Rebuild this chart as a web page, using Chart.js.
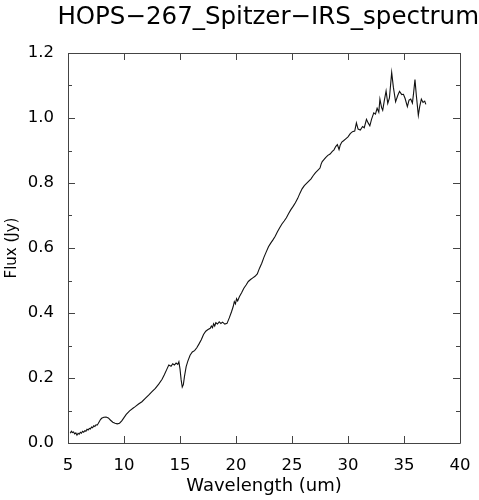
<!DOCTYPE html>
<html>
<head>
<meta charset="utf-8">
<title>HOPS-267 Spitzer IRS spectrum</title>
<script src="https://cdn.jsdelivr.net/npm/chart.js@4.4.1/dist/chart.umd.min.js"></script>
<style>
  html, body { margin: 0; padding: 0; background: #fff; }
  #wrap { width: 479px; height: 500px; }
</style>
</head>
<body>
<div id="wrap"><canvas id="spectrum"></canvas></div>
<script>
// Spectrum (wavelength in um, flux in Jy)
const wavelength = [
  5.2, 5.3, 5.4, 5.5, 5.6, 5.7, 5.8, 5.9, 6.0, 6.1, 6.2, 6.3, 6.4, 6.5, 6.6, 6.7, 6.8, 6.9, 7.0, 7.1,
  7.2, 7.3, 7.4, 7.5, 7.6, 7.7, 7.8, 7.9, 8.0, 8.2, 8.4, 8.6, 8.8, 9.0, 9.2, 9.4, 9.6, 9.8, 10.0, 10.2,
  10.5, 10.8, 11.0, 11.3, 11.6, 11.9, 12.2, 12.5, 12.8, 13.1, 13.4, 13.6, 13.8, 14.0, 14.2, 14.35, 14.5, 14.65, 14.8, 14.9,
  15.0, 15.1, 15.2, 15.3, 15.4, 15.55, 15.7, 15.9, 16.1, 16.3, 16.5, 16.7, 16.9, 17.1, 17.3, 17.5, 17.7, 17.8, 17.9, 18.0,
  18.1, 18.2, 18.35, 18.5, 18.65, 18.8, 19.0, 19.2, 19.4, 19.6, 19.75, 19.85, 19.95, 20.05, 20.15, 20.3, 20.5, 20.7, 20.9, 21.1,
  21.3, 21.5, 21.7, 21.9, 22.1, 22.3, 22.5, 22.7, 22.9, 23.1, 23.3, 23.5, 23.7, 23.9, 24.1, 24.3, 24.5, 24.7, 24.9, 25.1,
  25.3, 25.5, 25.7, 25.9, 26.1, 26.3, 26.5, 26.7, 26.9, 27.1, 27.3, 27.5, 27.6, 27.7, 27.85, 28.0, 28.2, 28.4, 28.6, 28.75,
  28.9, 29.05, 29.2, 29.3, 29.45, 29.6, 29.8, 30.0, 30.2, 30.4, 30.6, 30.75, 30.9, 31.1, 31.3, 31.45, 31.65, 31.8, 31.95, 32.1,
  32.3, 32.45, 32.6, 32.75, 32.85, 33.0, 33.1, 33.25, 33.4, 33.55, 33.7, 33.9, 34.05, 34.25, 34.45, 34.6, 34.8, 34.95, 35.1, 35.3,
  35.45, 35.6, 35.75, 35.85, 35.98, 36.1, 36.28, 36.4, 36.55, 36.7, 36.85, 36.95
];
const flux = [
  0.030, 0.036, 0.032, 0.034, 0.028, 0.031, 0.024, 0.030, 0.027, 0.033, 0.030, 0.036, 0.033, 0.038, 0.036, 0.042, 0.040, 0.045, 0.043, 0.049,
  0.047, 0.053, 0.051, 0.056, 0.055, 0.060, 0.066, 0.072, 0.076, 0.079, 0.080, 0.077, 0.070, 0.064, 0.061, 0.059, 0.061, 0.068, 0.078, 0.088,
  0.099, 0.107, 0.112, 0.120, 0.127, 0.137, 0.147, 0.158, 0.168, 0.181, 0.196, 0.210, 0.225, 0.240, 0.236, 0.244, 0.240, 0.246, 0.242, 0.250,
  0.228, 0.195, 0.172, 0.180, 0.205, 0.235, 0.252, 0.270, 0.280, 0.284, 0.293, 0.305, 0.318, 0.334, 0.344, 0.349, 0.353, 0.360, 0.355, 0.367,
  0.360, 0.370, 0.366, 0.373, 0.368, 0.372, 0.366, 0.368, 0.385, 0.404, 0.420, 0.435, 0.428, 0.444, 0.437, 0.450, 0.462, 0.476, 0.486, 0.497,
  0.503, 0.508, 0.513, 0.520, 0.538, 0.553, 0.572, 0.588, 0.604, 0.615, 0.625, 0.636, 0.650, 0.662, 0.674, 0.683, 0.693, 0.706, 0.718, 0.728,
  0.739, 0.752, 0.768, 0.782, 0.792, 0.799, 0.806, 0.813, 0.823, 0.832, 0.839, 0.846, 0.858, 0.866, 0.872, 0.878, 0.885, 0.889, 0.897, 0.902,
  0.912, 0.918, 0.903, 0.916, 0.926, 0.930, 0.936, 0.942, 0.952, 0.958, 0.960, 0.985, 0.966, 0.963, 0.974, 0.970, 0.996, 0.985, 0.976, 0.996,
  1.016, 1.012, 1.030, 1.018, 1.058, 1.032, 1.024, 1.055, 1.083, 1.045, 1.062, 1.140, 1.095, 1.050, 1.070, 1.082, 1.072, 1.073, 1.060, 1.035,
  1.055, 1.058, 1.046, 1.075, 1.118, 1.070, 1.008, 1.035, 1.058, 1.048, 1.052, 1.042
];

const xTicks = [5, 10, 15, 20, 25, 30, 35, 40];
const yTicks = [0.0, 0.2, 0.4, 0.6, 0.8, 1.0, 1.2];
const yMinorTicks = [0.1, 0.3, 0.5, 0.7, 0.9, 1.1];

const FONT = 'DejaVu Sans';

// IDL-style box: frame on all four sides, ticks pointing inward
const boxTicks = {
  id: 'boxTicks',
  afterDatasetsDraw(chart) {
    const {ctx, chartArea: a, scales: {x, y}} = chart;
    ctx.save();
    ctx.strokeStyle = '#444';
    ctx.lineWidth = 1;
    ctx.beginPath();
    ctx.rect(a.left + 0.5, a.top + 0.5, a.right - a.left, a.bottom - a.top);
    xTicks.forEach(v => {
      const px = Math.round(x.getPixelForValue(v)) + 0.5;
      ctx.moveTo(px, a.bottom); ctx.lineTo(px, a.bottom - 7);
      ctx.moveTo(px, a.top); ctx.lineTo(px, a.top + 7);
    });
    yTicks.forEach(v => {
      const py = Math.round(y.getPixelForValue(v)) + 0.5;
      ctx.moveTo(a.left, py); ctx.lineTo(a.left + 7, py);
      ctx.moveTo(a.right, py); ctx.lineTo(a.right - 7, py);
    });
    yMinorTicks.forEach(v => {
      const py = Math.round(y.getPixelForValue(v)) + 0.5;
      ctx.moveTo(a.left, py); ctx.lineTo(a.left + 4, py);
      ctx.moveTo(a.right, py); ctx.lineTo(a.right - 4, py);
    });
    ctx.stroke();
    ctx.restore();
  }
};

new Chart(document.getElementById('spectrum'), {
  type: 'line',
  data: {
    datasets: [{
      data: wavelength.map((w, i) => ({x: w, y: flux[i]})),
      borderColor: '#111',
      borderWidth: 1.1,
      pointRadius: 0,
      tension: 0,
      fill: false
    }]
  },
  options: {
    responsive: true,
    maintainAspectRatio: false,
    animation: false,
    layout: { padding: 0 },
    plugins: {
      legend: { display: false },
      tooltip: { enabled: false },
      title: {
        display: true,
        align: 'end',
        text: 'HOPS\u2212267_Spitzer\u2212IRS_spectrum',
        color: '#000',
        font: { family: FONT, size: 24.5, weight: 'normal', lineHeight: 1.2 },
        padding: { top: 3, bottom: 20.6 }
      }
    },
    scales: {
      x: {
        type: 'linear',
        min: 5,
        max: 40,
        afterBuildTicks: s => { s.ticks = xTicks.map(v => ({value: v})); },
        afterFit: s => { s.height = 57; },
        grid: { display: false },
        border: { display: false },
        ticks: {
          color: '#000',
          padding: 5,
          maxRotation: 0,
          font: { family: FONT, size: 16.5 },
          callback: v => String(v)
        },
        title: {
          display: true,
          text: 'Wavelength (um)',
          color: '#000',
          font: { family: FONT, size: 18 },
          padding: { top: 0, bottom: 3 }
        }
      },
      y: {
        min: 0,
        max: 1.2,
        afterBuildTicks: s => { s.ticks = yTicks.map(v => ({value: v})); },
        afterFit: s => { s.width = 68; },
        grid: { display: false },
        border: { display: false },
        ticks: {
          color: '#000',
          padding: 6,
          font: { family: FONT, size: 16.5 },
          callback: v => v.toFixed(1)
        },
        title: {
          display: true,
          text: 'Flux (Jy)',
          color: '#000',
          font: { family: FONT, size: 15 },
          padding: { top: 3, bottom: 0 }
        }
      },
      // empty strip on the right so the plot box ends where the reference does
      yRight: {
        position: 'right',
        min: 0,
        max: 1.2,
        afterFit: s => { s.width = 19; },
        grid: { display: false },
        border: { display: false },
        ticks: { display: false }
      }
    }
  },
  plugins: [boxTicks]
});
</script>
</body>
</html>
